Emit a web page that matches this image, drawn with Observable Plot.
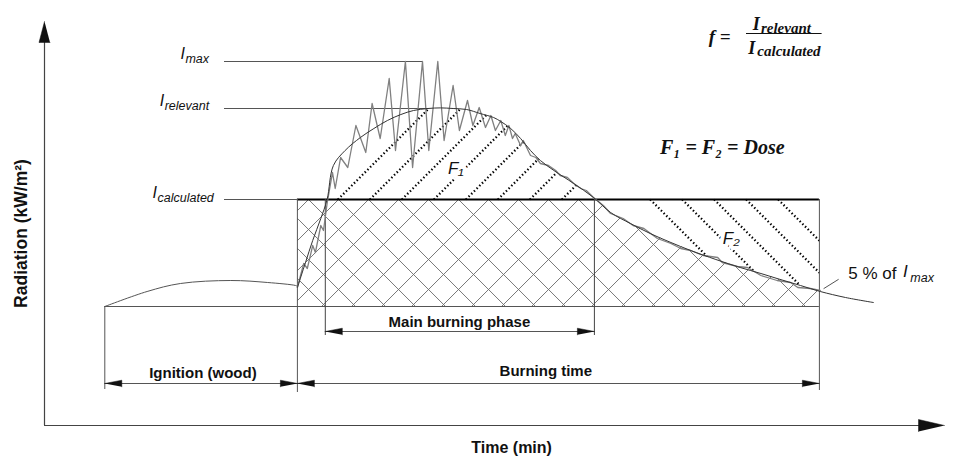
<!DOCTYPE html>
<html><head><meta charset="utf-8">
<script src="https://cdn.jsdelivr.net/npm/d3@7"></script>
<script src="https://cdn.jsdelivr.net/npm/@observablehq/plot@0.6"></script>
<style>body{margin:0;background:#fff;}</style>
</head><body>
<script>
// ---------- values (schematic units: time in min, radiation in kW/m²) ----------
const levelNames = ["max", "relevant", "calculated"];
const levelValues = [91, 79.25, 56.5];
const levelLineEnd = [42.0, 42.7, 28.1];
const levelLabelStart = 20;
const baseLevel = 29.75;

const phaseNames = ["Ignition (wood)", "Main burning phase", "Burning time"];
const phaseStart = [6.7, 31.2, 28.1];
const phaseEnd = [28.1, 61.1, 86.1];

const ignitionT = [6.7, 11.4, 15.1, 20.7, 24.8, 27.9, 28.1];
const ignitionR = [29.75, 33.5, 35.5, 36.25, 35.75, 35, 34.8];

const smoothT = [28.1,29.0,29.8,30.7,31.4,32.1,33.4,35.1,36.6,38.1,39.6,41.0,42.6,44.0,45.4,46.9,48.4,49.9,50.7,51.8,52.9,54.0,55.1,56.6,58.8,61.0,62.9,65.1,67.3,69.6,71.8,74.6,77.3,79.6,81.4,84.0,86.2,89.0,92.1];
const smoothR = [34.5,40.75,46.25,51.75,56.5,65,68.75,72,74.25,76.25,77.75,78.75,79.25,79.4,79.25,79,78,77,76,74.25,71.75,68.75,66.25,63.75,60.5,57,53.25,50.5,48,45.75,43.75,41.5,39.5,38,36.75,35,33.5,32,30.75];

const fireT = [28.1,28.8,29.2,29.8,30.1,30.7,31.0,31.4,32.0,32.3,32.9,33.7,34.6,35.7,36.4,37.3,38.3,39.0,40.1,40.9,42.0,42.7,43.7,44.4,45.4,46.1,47.0,47.6,48.3,49.0,49.6,50.1,50.7,51.2,51.6,52.0,52.3,52.9,53.2,54.0,54.6,55.1,56.0,56.8,57.3,58.1,58.8,59.6,60.2,61.0,62.1,62.9,64.3,65.4,66.6,68.1,69.6,70.7,71.8,73.2,74.8,75.3,77.0,78.1,79.6,81.4,82.9,83.7,85.1,86.2];
const fireR = [34.5,40.5,39.25,45,43.25,50,48.75,55.5,63.25,59.25,67,64.5,75,68.25,80.5,71.75,86.75,68.75,91,64.5,91,68.75,91,71.25,85,73.75,81.25,75,79.5,74.5,77.5,73.75,76.25,72.5,75,71.75,73,70,71.25,67.5,67,65.5,65,63.75,62.5,62,60.5,59.25,58.75,57,55,53,51.75,50,49.25,46.75,45.5,44.25,43.75,42.5,42,40.75,39.75,39.5,37.5,36.25,35.75,34.5,34.25,33.75];

// ---------- scales ----------
const timeDomain = [0, 100], radDomain = [0, 100];
const xRange = [44, 944], yRange = [425, 25];
const kx = (xRange[1] - xRange[0]) / (timeDomain[1] - timeDomain[0]);
const ky = (yRange[0] - yRange[1]) / (radDomain[1] - radDomain[0]);
const s45 = kx / ky; // slope of a 45° line in data units

const rows = (T, R) => T.map((t, i) => ({t, r: R[i]}));
const ignition = rows(ignitionT, ignitionR);
const smooth = rows(smoothT, smoothR);
const fire = rows(fireT, fireR);

const interp = (T, R) => t => {
  if (t <= T[0]) return R[0];
  for (let i = 1; i < T.length; i++) if (t <= T[i]) return R[i-1] + (R[i]-R[i-1]) * (t-T[i-1]) / (T[i]-T[i-1]);
  return R[R.length-1];
};
const smoothAt = interp(smoothT, smoothR);
const calc = levelValues[2];
const tA = phaseStart[2], tB = phaseEnd[2], tM = phaseEnd[1];
const topAt = t => t <= tM ? calc : Math.min(calc, smoothAt(t));

function segment(fn, t0, t1, inside, id, out) {
  let first = null, last = null;
  for (let t = t0; t <= t1; t += 0.01) {
    const r = fn(t);
    if (inside(t, r)) { if (!first) first = {id, t, r}; last = {id, t, r}; }
  }
  if (first) out.push(first, last);
}

// cross hatch (±45°) for the dose under the calculated level
const hatch = [];
const pitch = 30 / kx, span = (calc - baseLevel) / s45;
const inRegion = (t, r) => t >= tA && t <= tB && r >= baseLevel && r <= topAt(t);
for (let k = -12; k < 30; k++) {
  const t0 = 32.67 + k * pitch;
  segment(t => calc + s45 * (t - t0), t0 - span - 0.1, t0 + 0.1, inRegion, "a" + k, hatch);
  segment(t => calc - s45 * (t - t0), t0 - 0.1, t0 + span + 0.1, inRegion, "b" + k, hatch);
}
// dotted hatch F1 (above calc, under curve) and F2 (under calc, above curve)
const dots = [];
const dpitch = 32 / kx;
for (let k = 0; k < 8; k++) {
  const t0 = 32.6 + k * dpitch;
  segment(t => calc + s45 * (t - t0), t0, t0 + 15, (t, r) => r <= smoothAt(t) && t <= tM + 1, "f1" + k, dots);
}
for (let k = 0; k < 5; k++) {
  const t0 = 67.3 + k * dpitch;
  segment(t => calc - s45 * (t - t0), t0, t0 + 15, (t, r) => r >= smoothAt(t) && t <= tB, "f2" + k, dots);
}

// arrow heads as filled triangles
function head(id, t, r, dir, len, half) {
  let p;
  if (dir === "right") p = [[t, r], [t - len/kx, r + half/ky], [t - len/kx, r - half/ky]];
  if (dir === "left")  p = [[t, r], [t + len/kx, r + half/ky], [t + len/kx, r - half/ky]];
  if (dir === "up")    p = [[t, r], [t - half/kx, r - len/ky], [t + half/kx, r - len/ky]];
  return p.map(([a, b]) => ({id, t: a, r: b}));
}
const dimLevel = [10.5, 23.5, 10.5];
const heads = [
  ...head("ya", 0, 101, "up", 21, 5.5),
  ...head("xa", 100, 0, "right", 26, 6),
];
phaseNames.forEach((n, i) => {
  heads.push(...head(n + "L", phaseStart[i], dimLevel[i], "left", 17, 3.3));
  heads.push(...head(n + "R", phaseEnd[i], dimLevel[i], "right", 17, 3.3));
});

const sans = "Liberation Sans, Arial, sans-serif";
const serif = "Liberation Serif, 'Times New Roman', serif";
const T = (t, r, s) => [{t, r, s}];

const plot = Plot.plot({
  width: 964, height: 459, margin: 0,
  x: {domain: timeDomain, range: xRange, axis: null},
  y: {domain: radDomain, range: yRange, axis: null},
  style: {background: "#fff", overflow: "visible"},
  marks: [
    // cross hatch
    Plot.line(hatch, {x: "t", y: "r", z: "id", stroke: "#6a6a6a", strokeWidth: 0.9}),
    // dotted hatch
    Plot.line(dots, {x: "t", y: "r", z: "id", stroke: "#000", strokeWidth: 2.2, strokeDasharray: "1.4,2.4", strokeLinecap: "butt"}),
    // axes
    Plot.ruleX([0], {y1: 0, y2: 96, stroke: "#444", strokeWidth: 1.2}),
    Plot.ruleY([0], {x1: 0, x2: 97.5, stroke: "#444", strokeWidth: 1.2}),
    // level lines
    Plot.ruleY(levelValues, {x1: levelLabelStart, x2: (d, i) => levelLineEnd[i], stroke: "#555", strokeWidth: 1}),
    Plot.ruleY([baseLevel], {x1: phaseStart[0], x2: tB, stroke: "#555", strokeWidth: 1}),
    Plot.ruleY([calc], {x1: tA, x2: tB, stroke: "#000", strokeWidth: 2.2}),
    // verticals
    Plot.ruleX([phaseStart[0]], {y1: baseLevel, y2: 9, stroke: "#555", strokeWidth: 1}),
    Plot.ruleX([tA], {y1: calc, y2: 8.25, stroke: "#555", strokeWidth: 1}),
    Plot.ruleX([tB], {y1: calc, y2: 8.75, stroke: "#555", strokeWidth: 1}),
    Plot.ruleX([phaseStart[1], phaseEnd[1]], {y1: calc, y2: 22.5, stroke: "#444", strokeWidth: 1}),
    // dimension lines
    Plot.ruleY(phaseNames, {y: (d, i) => dimLevel[i], x1: (d, i) => phaseStart[i], x2: (d, i) => phaseEnd[i], stroke: "#555", strokeWidth: 1}),
    Plot.line(heads, {x: "t", y: "r", z: "id", fill: "#111", stroke: "#111", strokeWidth: 0.5}),
    // curves
    Plot.line(ignition, {x: "t", y: "r", curve: "catmull-rom", stroke: "#555", strokeWidth: 1}),
    Plot.line(fire, {x: "t", y: "r", stroke: "#808080", strokeWidth: 1.3}),
    Plot.line(smooth, {x: "t", y: "r", curve: "catmull-rom", stroke: "#333", strokeWidth: 1}),
    Plot.line([{t: 86.6, r: 34.25}, {t: 88.2, r: 36.5}], {x: "t", y: "r", stroke: "#555", strokeWidth: 1}),
    // level labels
    Plot.text([15.1, 12.8, 12.0].map((t, i) => ({t, r: [93, 81.25, 58.25][i], s: "I"})), {x: "t", y: "r", text: "s", textAnchor: "start", fontFamily: sans, fontStyle: "italic", fontSize: 16, fill: "#111"}),
    Plot.text([15.1, 12.8, 12.0].map((t, i) => ({t, r: [93, 81.25, 58.25][i], s: levelNames[i]})), {x: "t", y: "r", text: "s", textAnchor: "start", dx: 5, dy: 5, fontFamily: sans, fontStyle: "italic", fontSize: 12.5, fill: "#111"}),
    // dimension labels
    Plot.text(T(17.6, 13.2, phaseNames[0]), {x: "t", y: "r", text: "s", fontFamily: sans, fontWeight: "bold", fontSize: 15, fill: "#111"}),
    Plot.text(T(46.1, 25.9, phaseNames[1]), {x: "t", y: "r", text: "s", fontFamily: sans, fontWeight: "bold", fontSize: 15, fill: "#111"}),
    Plot.text(T(55.7, 13.5, phaseNames[2]), {x: "t", y: "r", text: "s", fontFamily: sans, fontWeight: "bold", fontSize: 15, fill: "#111"}),
    // axis titles
    Plot.text(T(51.9, -5.5, "Time (min)"), {x: "t", y: "r", text: "s", fontFamily: sans, fontWeight: "bold", fontSize: 16, fill: "#111"}),
    Plot.text(T(-2.55, 48, "Radiation (kW/m²)"), {x: "t", y: "r", text: "s", rotate: -90, fontFamily: sans, fontWeight: "bold", fontSize: 17.5, fill: "#111"}),
    // area labels
    Plot.text(T(45.7, 64.25, "F₁"), {x: "t", y: "r", text: "s", fontFamily: sans, fontStyle: "italic", fontSize: 17, fill: "#111", stroke: "#fff", strokeWidth: 8}),
    Plot.text(T(76.3, 46.75, "F₂"), {x: "t", y: "r", text: "s", fontFamily: sans, fontStyle: "italic", fontSize: 17, fill: "#111", stroke: "#fff", strokeWidth: 8}),
    // 5 % of Imax
    Plot.text(T(89.3, 38, "5 % of"), {x: "t", y: "r", text: "s", textAnchor: "start", fontFamily: sans, fontSize: 17, fill: "#111"}),
    Plot.text(T(95.4, 38.5, "I"), {x: "t", y: "r", text: "s", textAnchor: "start", fontFamily: sans, fontStyle: "italic", fontSize: 17, fill: "#111"}),
    Plot.text(T(96.2, 37, "max"), {x: "t", y: "r", text: "s", textAnchor: "start", fontFamily: sans, fontStyle: "italic", fontSize: 12.5, fill: "#111"}),
    // formulas
    Plot.text(T(73.8, 97.25, "f ="), {x: "t", y: "r", text: "s", textAnchor: "start", fontFamily: serif, fontStyle: "italic", fontWeight: "bold", fontSize: 19, fill: "#111"}),
    Plot.text(T(78.7, 100.25, "I"), {x: "t", y: "r", text: "s", textAnchor: "start", fontFamily: serif, fontStyle: "italic", fontWeight: "bold", fontSize: 18, fill: "#111"}),
    Plot.text(T(79.6, 99.4, "relevant"), {x: "t", y: "r", text: "s", textAnchor: "start", fontFamily: serif, fontStyle: "italic", fontWeight: "bold", fontSize: 15, fill: "#111"}),
    Plot.ruleY([98], {x1: 78.0, x2: 86.4, stroke: "#111", strokeWidth: 1.2}),
    Plot.text(T(78.2, 94.25, "I"), {x: "t", y: "r", text: "s", textAnchor: "start", fontFamily: serif, fontStyle: "italic", fontWeight: "bold", fontSize: 18, fill: "#111"}),
    Plot.text(T(79.2, 93.5, "calculated"), {x: "t", y: "r", text: "s", textAnchor: "start", fontFamily: serif, fontStyle: "italic", fontWeight: "bold", fontSize: 15, fill: "#111"}),
    Plot.text(T(68.4, 69.5, "F₁ = F₂ = Dose"), {x: "t", y: "r", text: "s", textAnchor: "start", fontFamily: serif, fontStyle: "italic", fontWeight: "bold", fontSize: 20, fill: "#111"})
  ]
});
document.body.appendChild(plot);
</script>
</body></html>
